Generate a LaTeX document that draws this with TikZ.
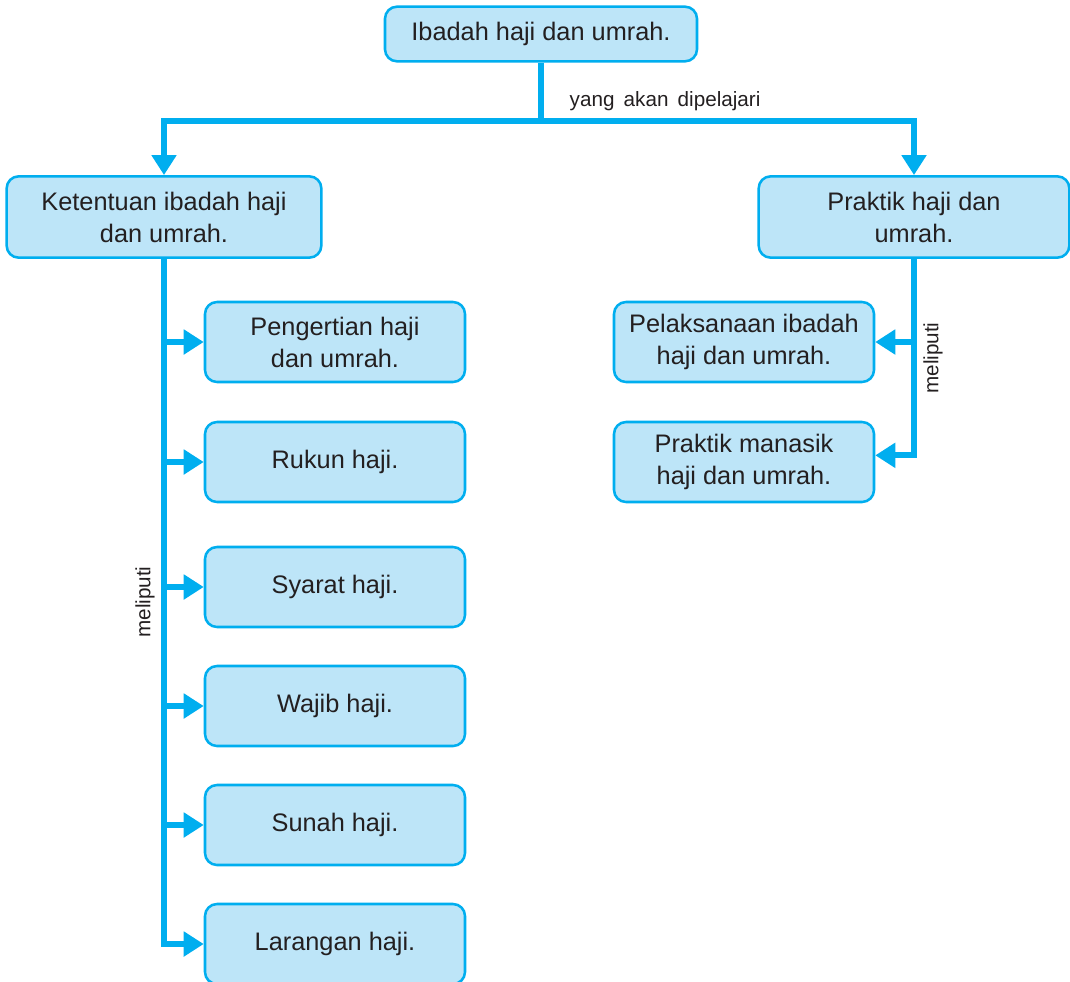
\documentclass[tikz,border=0pt]{standalone}
\usepackage{fontspec}
\setmainfont{Liberation Sans}
\usetikzlibrary{arrows.meta,positioning}
\definecolor{kotak}{HTML}{BDE5F8}
\definecolor{garis}{HTML}{00AEEF}
\definecolor{teks}{HTML}{231F20}
\newcommand{\isi}{\fontsize{19}{24}\selectfont}
\newcommand{\kecil}{\fontsize{15.5}{17}\selectfont}

\begin{document}
\begin{tikzpicture}[x=0.75pt,y=-0.75pt,
  box/.style={draw=garis,fill=kotak,line width=1.9pt,rounded corners=9pt,
    align=center,text=teks,font=\isi,inner sep=0pt},
  sub/.style={box,minimum width=195pt,minimum height=60pt},
  link/.style={draw=garis,line width=4.5pt},
  tip/.style={link,-{Triangle[length=15pt,width=18pt]}},
  note/.style={text=teks,font=\kecil}]
\useasboundingbox (0,0) rectangle (1070,981);
% ---- top: main topic and its two branches ----
\node[box,minimum width=234pt,minimum height=41pt] (utama) at (541,34) {Ibadah haji dan umrah.};
\node[box,minimum width=236pt,minimum height=61pt] (ketentuan) at (164,217) {Ketentuan ibadah haji\\dan umrah.};
\node[box,minimum width=233pt,minimum height=61pt] (praktik) at (914,217) {Praktik haji dan\\umrah.};
\coordinate (cabang) at (541,121);
\draw[link] (utama.south) -- (cabang);
\draw[tip] (cabang) -| (ketentuan.north);
\draw[tip] (cabang) -| (praktik.north);
\node[note,anchor=west] (pelajari) at (565,101) {yang\ \,akan\ \,dipelajari};
% ---- left branch: ketentuan ----
\foreach \nama/\isian/\y in {pengertian/{Pengertian haji\\dan umrah.}/342,
    rukun/{Rukun haji.}/462, syarat/{Syarat haji.}/587, wajib/{Wajib haji.}/706,
    sunah/{Sunah haji.}/825, larangan/{Larangan haji.}/944}
  \node[sub] (\nama) at (335,\y) {\isian};
\draw[tip] (ketentuan.south) |- (larangan.west);
\foreach \nama in {pengertian,rukun,syarat,wajib,sunah}
  \draw[tip] (ketentuan.south |- \nama.west) -- (\nama.west);
\node[note,rotate=90] (meliputikiri) at (145,602) {meliputi};
% ---- right branch: praktik ----
\node[sub] (pelaksanaan) at (744,342) {Pelaksanaan ibadah\\haji dan umrah.};
\node[sub] (manasik) at (744,462) {Praktik manasik\\haji dan umrah.};
\draw[tip] (praktik.south) |- ([yshift=5pt]manasik.east);
\draw[tip] (praktik.south |- pelaksanaan.east) -- (pelaksanaan.east);
\node[note,rotate=90] (meliputikanan) at (933,358) {meliputi};
\end{tikzpicture}
\end{document}
